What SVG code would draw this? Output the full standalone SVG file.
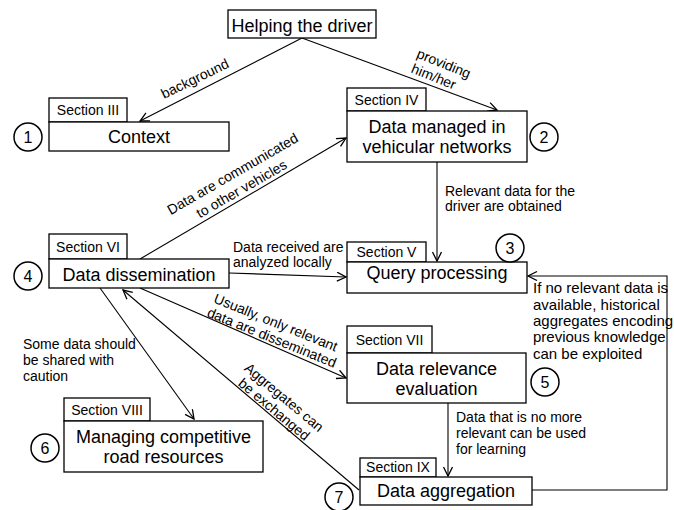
<svg xmlns="http://www.w3.org/2000/svg" width="674" height="510" viewBox="0 0 674 510">
<defs>
<marker id="arr" markerWidth="12" markerHeight="12" refX="10" refY="5" orient="auto" markerUnits="userSpaceOnUse">
<path d="M1,0.5 L10,5 L1,9.5" fill="none" stroke="#000" stroke-width="1.3"/>
</marker>
</defs>
<style>
text{font-family:"Liberation Sans",Arial,sans-serif;fill:#000}
.box{fill:#fff;stroke:#000;stroke-width:1.3}
.main{font-size:18px;text-anchor:middle}
.tab{font-size:14px;text-anchor:middle}
.lbl{font-size:14px}
.rl{font-size:14px;text-anchor:middle}
.num{font-size:16px;text-anchor:middle}
.circ{fill:#fff;stroke:#000;stroke-width:1.5}
.con{fill:none;stroke:#000;stroke-width:1.1}
</style>
<rect width="674" height="510" fill="#fff"/>

<g id="connectors">
<line class="con" x1="302" y1="38" x2="140" y2="121" marker-end="url(#arr)"/>
<line class="con" x1="302" y1="38" x2="497" y2="110" marker-end="url(#arr)"/>
<line class="con" x1="140" y1="259" x2="346" y2="138" marker-end="url(#arr)"/>
<line class="con" x1="437" y1="162" x2="437" y2="261" marker-end="url(#arr)"/>
<line class="con" x1="229" y1="273" x2="346" y2="277" marker-end="url(#arr)"/>
<line class="con" x1="140" y1="288" x2="346" y2="378" marker-end="url(#arr)"/>
<line class="con" x1="100" y1="288" x2="194" y2="419" marker-end="url(#arr)"/>
<line class="con" x1="359" y1="490" x2="123" y2="290" marker-end="url(#arr)"/>
<line class="con" x1="448" y1="403" x2="448" y2="476" marker-end="url(#arr)"/>
<polyline class="con" points="532,490 667,490 667,276 528,276" marker-end="url(#arr)"/>

<text class="rl" transform="translate(197,83) rotate(-26)">background</text>
<text class="rl" transform="translate(442,68) rotate(22)">providing</text>
<text class="rl" transform="translate(432,81) rotate(22)">him/her</text>
<text class="rl" transform="translate(235,178) rotate(-30)">Data are communicated</text>
<text class="rl" transform="translate(244,193) rotate(-30)">to other vehicles</text>
<text class="rl" transform="translate(274,327) rotate(22)">Usually, only relevant</text>
<text class="rl" transform="translate(270,342) rotate(22)">data are disseminated</text>
<text class="rl" transform="translate(281,401) rotate(40)">Aggregates can</text>
<text class="rl" transform="translate(271,413) rotate(40)">be exchanged</text>

<text class="lbl" x="445" y="196">Relevant data for the</text>
<text class="lbl" x="445" y="211">driver are obtained</text>
<text class="lbl" x="233" y="252">Data received are</text>
<text class="lbl" x="233" y="267">analyzed locally</text>
<text class="lbl" x="533" y="293" style="font-size:15px">If no relevant data is</text>
<text class="lbl" x="533" y="309.5" style="font-size:15px">available, historical</text>
<text class="lbl" x="533" y="326" style="font-size:15px">aggregates encoding</text>
<text class="lbl" x="533" y="342" style="font-size:15px">previous knowledge</text>
<text class="lbl" x="533" y="358.5" style="font-size:15px">can be exploited</text>
<text class="lbl" x="23" y="349">Some data should</text>
<text class="lbl" x="23" y="365">be shared with</text>
<text class="lbl" x="23" y="381">caution</text>
<text class="lbl" x="456" y="422">Data that is no more</text>
<text class="lbl" x="456" y="438">relevant can be used</text>
<text class="lbl" x="456" y="454">for learning</text>
</g>

<g id="helping">
<rect class="box" x="228" y="10" width="148" height="28"/>
<text class="main" x="302" y="32">Helping the driver</text>
</g>

<g id="context">
<rect class="box" x="49" y="98" width="78" height="24"/>
<text class="tab" x="88" y="115">Section III</text>
<rect class="box" x="49" y="122" width="180" height="29"/>
<text class="main" x="139" y="143">Context</text>
<circle class="circ" cx="28" cy="137" r="14"/>
<text class="num" x="28" y="143">1</text>
</g>

<g id="vehicular">
<rect class="box" x="347" y="88" width="79" height="23"/>
<text class="tab" x="386.5" y="105">Section IV</text>
<rect class="box" x="347" y="111" width="180" height="51"/>
<text class="main" x="437" y="133">Data managed in</text>
<text class="main" x="437" y="153">vehicular networks</text>
<circle class="circ" cx="544" cy="137" r="14"/>
<text class="num" x="544" y="143">2</text>
</g>

<g id="query">
<rect class="box" x="347" y="242" width="79" height="20"/>
<text class="tab" x="386.5" y="257">Section V</text>
<rect class="box" x="347" y="262" width="180" height="31"/>
<text class="main" x="437" y="279">Query processing</text>
<circle class="circ" cx="510" cy="248" r="14"/>
<text class="num" x="510" y="254">3</text>
</g>

<g id="dissemination">
<rect class="box" x="49" y="234" width="78" height="25"/>
<text class="tab" x="88" y="252">Section VI</text>
<rect class="box" x="49" y="259" width="180" height="29"/>
<text class="main" x="139" y="281">Data dissemination</text>
<circle class="circ" cx="28" cy="276" r="14"/>
<text class="num" x="28" y="282">4</text>
</g>

<g id="relevance">
<rect class="box" x="347" y="326" width="85" height="27"/>
<text class="tab" x="389.5" y="345">Section VII</text>
<rect class="box" x="347" y="353" width="179" height="50"/>
<text class="main" x="436.5" y="375">Data relevance</text>
<text class="main" x="436.5" y="395">evaluation</text>
<circle class="circ" cx="545" cy="382" r="14"/>
<text class="num" x="545" y="388">5</text>
</g>

<g id="competitive">
<rect class="box" x="64" y="398" width="86" height="23"/>
<text class="tab" x="107" y="415">Section VIII</text>
<rect class="box" x="64" y="421" width="199" height="51"/>
<text class="main" x="163.5" y="443">Managing competitive</text>
<text class="main" x="163.5" y="463">road resources</text>
<circle class="circ" cx="45" cy="448" r="14"/>
<text class="num" x="45" y="454">6</text>
</g>

<g id="aggregation">
<rect class="box" x="360" y="458" width="76" height="19"/>
<text class="tab" x="398" y="472">Section IX</text>
<rect class="box" x="360" y="477" width="172" height="28"/>
<text class="main" x="446" y="497">Data aggregation</text>
<circle class="circ" cx="339" cy="497" r="14"/>
<text class="num" x="339" y="503">7</text>
</g>
</svg>
